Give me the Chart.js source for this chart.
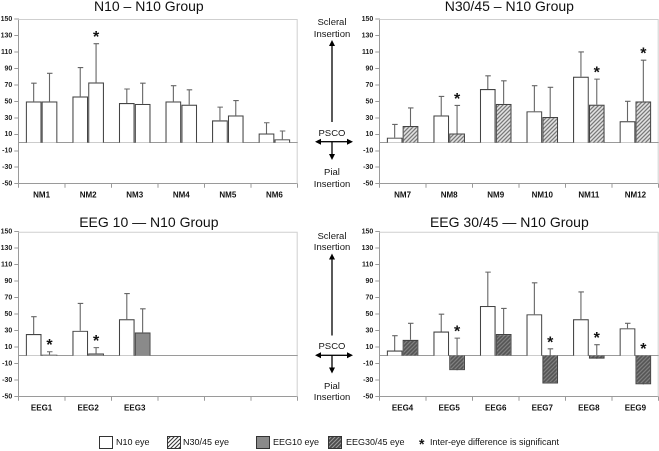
<!DOCTYPE html>
<html>
<head>
<meta charset="utf-8">
<script src="https://cdn.jsdelivr.net/npm/chart.js@4"></script>
<style>
  html, body { margin: 0; padding: 0; background: #fff; overflow: hidden; }
  body { width: 659px; height: 451px; position: relative; font-family: "Liberation Sans", Arial, sans-serif; }
  canvas.panel { position: absolute; }
  .lg { position: absolute; font-size: 9px; color: #111; line-height: 13px; top: 436px; white-space: nowrap; }
  .sw { position: absolute; top: 436px; }
</style>
</head>
<body>
<canvas id="pA" class="panel" width="308" height="202" style="left:0;top:0"></canvas>
<canvas id="pB" class="panel" width="311" height="202" style="left:360px;top:0"></canvas>
<canvas id="pC" class="panel" width="308" height="199" style="left:0;top:216px"></canvas>
<canvas id="pD" class="panel" width="311" height="199" style="left:360px;top:216px"></canvas>

<svg width="659" height="451" style="position:absolute;left:0;top:0" font-family="Liberation Sans, Arial, sans-serif" font-size="9.5" fill="#111">
  <g id="arrowsTop">
    <text x="332" y="25" text-anchor="middle">Scleral</text>
    <text x="332" y="36.5" text-anchor="middle">Insertion</text>
    <line x1="332" y1="44" x2="332" y2="122" stroke="#000" stroke-width="1.3"/>
    <polygon points="332,40 329,46 335,46" fill="#000"/>
    <text x="332" y="135.5" text-anchor="middle">PSCO</text>
    <line x1="318" y1="141.7" x2="350" y2="141.7" stroke="#000" stroke-width="1.3"/>
    <polygon points="315,141.7 321,138.7 321,144.7" fill="#000"/>
    <polygon points="353,141.7 347,138.7 347,144.7" fill="#000"/>
    <line x1="332" y1="141.7" x2="332" y2="156" stroke="#000" stroke-width="1.3"/>
    <polygon points="332,160 329,154 335,154" fill="#000"/>
    <text x="332" y="175" text-anchor="middle">Pial</text>
    <text x="332" y="186.5" text-anchor="middle">Insertion</text>
  </g>
  <g transform="translate(0,213.6)">
    <text x="332" y="25" text-anchor="middle">Scleral</text>
    <text x="332" y="36.5" text-anchor="middle">Insertion</text>
    <line x1="332" y1="44" x2="332" y2="122" stroke="#000" stroke-width="1.3"/>
    <polygon points="332,40 329,46 335,46" fill="#000"/>
    <text x="332" y="135.5" text-anchor="middle">PSCO</text>
    <line x1="318" y1="141.7" x2="350" y2="141.7" stroke="#000" stroke-width="1.3"/>
    <polygon points="315,141.7 321,138.7 321,144.7" fill="#000"/>
    <polygon points="353,141.7 347,138.7 347,144.7" fill="#000"/>
    <line x1="332" y1="141.7" x2="332" y2="156" stroke="#000" stroke-width="1.3"/>
    <polygon points="332,160 329,154 335,154" fill="#000"/>
    <text x="332" y="175" text-anchor="middle">Pial</text>
    <text x="332" y="186.5" text-anchor="middle">Insertion</text>
  </g>
</svg>

<canvas id="sw1" class="sw" width="14" height="13" style="left:99px"></canvas>
<div class="lg" style="left:116px">N10 eye</div>
<canvas id="sw2" class="sw" width="14" height="13" style="left:167px"></canvas>
<div class="lg" style="left:183px">N30/45 eye</div>
<canvas id="sw3" class="sw" width="14" height="13" style="left:256px"></canvas>
<div class="lg" style="left:273px">EEG10 eye</div>
<canvas id="sw4" class="sw" width="14" height="13" style="left:328px"></canvas>
<div class="lg" style="left:346px">EEG30/45 eye</div>
<div class="lg" style="left:419px;font-size:14px;font-weight:bold;top:436px;line-height:16px">*</div>
<div class="lg" style="left:430px">Inter-eye difference is significant</div>

<script>
// y axis ticks shared by all panels
const yTicks = [-50, -30, -10, 10, 30, 50, 70, 90, 110, 130, 150];

// N10 – N10 Group
const catsA = ['NM1', 'NM2', 'NM3', 'NM4', 'NM5', 'NM6'];
const a_eye1 = [50, 56, 48, 50, 27, 11];
const a_eye2 = [50, 73, 47, 46, 33, 4];
const a_sd1 = [22, 35, 17, 19, 16, 13];
const a_sd2 = [34, 47, 25, 18, 18, 10];
const a_sig = [0, 1, 0, 0, 0, 0];

// N30/45 – N10 Group
const catsB = ['NM7', 'NM8', 'NM9', 'NM10', 'NM11', 'NM12'];
const b_eye1 = [6, 33, 65, 38, 80, 26];
const b_eye2 = [20, 11, 47, 31, 46, 50];
const b_sd1 = [16, 23, 16, 31, 30, 24];
const b_sd2 = [22, 34, 28, 36, 31, 50];
const b_sig = [0, 1, 0, 0, 1, 1];

// EEG 10 — N10 Group
const catsC = ['EEG1', 'EEG2', 'EEG3', '', '', ''];
const c_eye1 = [26, 30, 44];
const c_eye2 = [1, 2.5, 28];
const c_sd1 = [21, 33, 31];
const c_sd2 = [3.5, 7, 28.5];
const c_sig = [1, 1, 0];

// EEG 30/45 — N10 Group
const catsD = ['EEG4', 'EEG5', 'EEG6', 'EEG7', 'EEG8', 'EEG9'];
const d_eye1 = [6, 29, 60, 50, 44, 33];
const d_eye2 = [19, -18, 26, -34, -4, -35];
const d_sd1 = [18, 21, 41, 38, 33, 6];
const d_sd2 = [20, 39, 31, 42, 17, 20];
const d_sig = [0, 1, 0, 1, 1, 1];

const FONT = "'Liberation Sans', Arial, sans-serif";

function hatch(bg, fg) {
    const c = document.createElement('canvas');
    c.width = 4; c.height = 4;
    const g = c.getContext('2d');
    g.fillStyle = bg;
    g.fillRect(0, 0, 4, 4);
    g.strokeStyle = fg;
    g.lineWidth = 1.1;
    g.beginPath();
    g.moveTo(-1, 5); g.lineTo(5, -1);
    g.moveTo(-1, 1); g.lineTo(1, -1);
    g.moveTo(3, 5); g.lineTo(5, 3);
    g.stroke();
    return g.createPattern(c, 'repeat');
}

const fillN10 = '#ffffff';
const fillN3045 = hatch('#ffffff', '#3a3a3a');
const fillEEG10 = '#8a8a8a';
const fillEEG3045 = hatch('#4a4a4a', '#9a9a9a');

// frame of the plot area and the zero line
const framePlugin = {
    id: 'frame',
    beforeDatasetsDraw(chart) {
        const a = chart.chartArea, ctx = chart.ctx;
        const y0 = chart.scales.y.getPixelForValue(0);
        ctx.save();
        ctx.strokeStyle = '#cfcfcf';
        ctx.lineWidth = 1;
        ctx.beginPath();
        ctx.moveTo(a.left, a.top + 0.5);
        ctx.lineTo(a.right - 0.5, a.top + 0.5);
        ctx.lineTo(a.right - 0.5, a.bottom);
        ctx.stroke();
        ctx.strokeStyle = '#9a9a9a';
        ctx.beginPath();
        ctx.moveTo(a.left, y0);
        ctx.lineTo(a.right, y0);
        ctx.stroke();
        ctx.restore();
    }
};

// error bars drawn under the bars, stars on top
const errPlugin = {
    id: 'errbars',
    beforeDatasetsDraw(chart) {
        const ctx = chart.ctx, ys = chart.scales.y;
        ctx.save();
        ctx.strokeStyle = '#666';
        ctx.lineWidth = 1.1;
        chart.data.datasets.forEach((ds, i) => {
            const meta = chart.getDatasetMeta(i);
            meta.data.forEach((el, j) => {
                const v = ds.data[j];
                if (v === null || v === undefined) return;
                const top = ys.getPixelForValue(v + ds.sd[j]);
                ctx.beginPath();
                ctx.moveTo(el.x, el.y);
                ctx.lineTo(el.x, top);
                ctx.moveTo(el.x - 2.5, top);
                ctx.lineTo(el.x + 3, top);
                ctx.stroke();
            });
        });
        ctx.restore();
    },
    afterDatasetsDraw(chart) {
        const ctx = chart.ctx, ys = chart.scales.y;
        ctx.save();
        ctx.fillStyle = '#111';
        ctx.font = 'bold 16px ' + FONT;
        ctx.textAlign = 'center';
        ctx.textBaseline = 'alphabetic';
        chart.data.datasets.forEach((ds, i) => {
            if (!ds.sig) return;
            const meta = chart.getDatasetMeta(i);
            meta.data.forEach((el, j) => {
                if (!ds.sig[j]) return;
                const v = ds.data[j];
                const top = ys.getPixelForValue(Math.max(v + ds.sd[j], 0));
                ctx.fillText('*', el.x, top - 10 + 8.5);
            });
        });
        ctx.restore();
    }
};

function makePanel(id, title, cats, e1, e2, s1, s2, sig, fill2, yWidth, padRight) {
    new Chart(document.getElementById(id), {
        type: 'bar',
        data: {
            labels: cats,
            datasets: [
                { label: 'N10 eye', data: e1, sd: s1, backgroundColor: fillN10, borderColor: '#444', borderWidth: 1.2 },
                { label: 'other eye', data: e2, sd: s2, sig: sig, backgroundColor: fill2, borderColor: '#444', borderWidth: 1.2 }
            ]
        },
        options: {
            responsive: false,
            animation: false,
            devicePixelRatio: 2,
            categoryPercentage: 0.68,
            barPercentage: 1,
            layout: { padding: { left: 0, right: padRight, top: 0, bottom: 0 } },
            plugins: {
                legend: { display: false },
                tooltip: { enabled: false },
                title: {
                    display: true,
                    text: title,
                    color: '#111',
                    font: { family: FONT, size: 14, weight: 'normal', lineHeight: 1 },
                    padding: { top: 0, bottom: id === 'pA' || id === 'pB' ? 5 : 1.7 }
                }
            },
            scales: {
                x: {
                    grid: { offset: true, drawOnChartArea: false, tickLength: 4, color: '#9a9a9a' },
                    border: { color: '#9a9a9a' },
                    ticks: { color: '#111', font: { family: FONT, size: 8, weight: 'bold' }, padding: 3, maxRotation: 0, autoSkip: false },
                    afterFit(s) { s.height = 18.3; }
                },
                y: {
                    min: -50,
                    max: 150,
                    afterBuildTicks(s) { s.ticks = yTicks.map(v => ({ value: v })); },
                    grid: { drawOnChartArea: false, tickLength: 4, color: '#9a9a9a' },
                    border: { color: '#9a9a9a' },
                    ticks: { color: '#222', font: { family: FONT, size: 7, weight: 'bold' }, padding: 2 },
                    afterFit(s) { s.width = yWidth; }
                }
            }
        },
        plugins: [framePlugin, errPlugin]
    });
}

makePanel('pA', 'N10 \u2013 N10 Group', catsA, a_eye1, a_eye2, a_sd1, a_sd2, a_sig, fillN10, 18.3, 10.3);
makePanel('pB', 'N30/45 \u2013 N10 Group', catsB, b_eye1, b_eye2, b_sd1, b_sd2, b_sig, fillN3045, 19.3, 12.3);
makePanel('pC', 'EEG 10 \u2014 N10 Group', catsC, c_eye1, c_eye2, c_sd1, c_sd2, c_sig, fillEEG10, 18.3, 10.3);
makePanel('pD', 'EEG 30/45 \u2014 N10 Group', catsD, d_eye1, d_eye2, d_sd1, d_sd2, d_sig, fillEEG3045, 19.3, 12.3);

// legend swatches
[['sw1', fillN10], ['sw2', fillN3045], ['sw3', fillEEG10], ['sw4', fillEEG3045]].forEach(([id, f]) => {
    const g = document.getElementById(id).getContext('2d');
    g.fillStyle = f;
    g.fillRect(0, 0, 14, 13);
    g.strokeStyle = '#333';
    g.lineWidth = 1;
    g.strokeRect(0.5, 0.5, 13, 12);
});
</script>
</body>
</html>
